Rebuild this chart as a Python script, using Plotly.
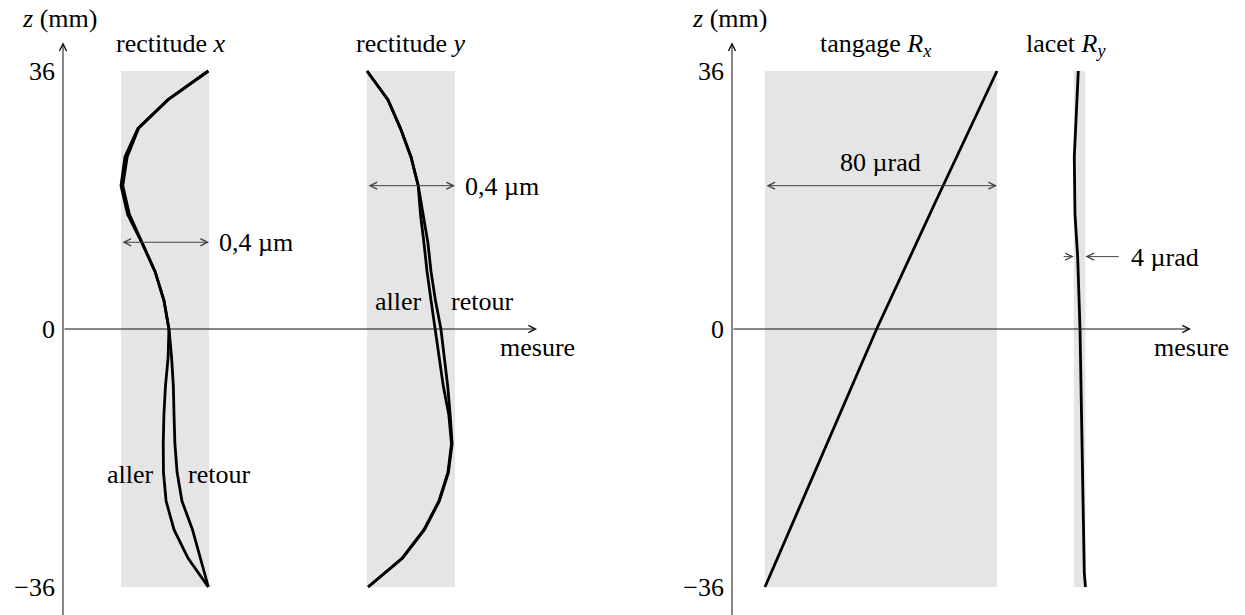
import plotly.graph_objects as go

# ---------------- data ----------------
# z positions (mm) of the straightness measurements
z_rect = [36, 32, 28, 24, 20, 16, 12, 8, 4, 0, -4, -8, -12, -16, -20, -24, -28, -32, -36]
# straightness x (um, relative to the left edge of its 0.4 um band)
rect_x_aller = [0.397, 0.214, 0.077, 0.018, 0.000, 0.030, 0.095, 0.155, 0.195, 0.218,
                0.214, 0.202, 0.195, 0.192, 0.193, 0.205, 0.241, 0.305, 0.397]
rect_x_retour = [0.397, 0.214, 0.080, 0.028, 0.008, 0.038, 0.097, 0.155, 0.195, 0.218,
                 0.230, 0.238, 0.241, 0.245, 0.255, 0.277, 0.325, 0.361, 0.397]
# straightness y (um, relative to the left edge of its 0.4 um band)
rect_y_aller = [0.000, 0.095, 0.152, 0.200, 0.233, 0.243, 0.259, 0.273, 0.291, 0.309,
                0.330, 0.347, 0.372, 0.384, 0.368, 0.327, 0.259, 0.159, 0.005]
rect_y_retour = [0.000, 0.095, 0.152, 0.200, 0.233, 0.255, 0.277, 0.291, 0.311, 0.336,
                 0.352, 0.367, 0.378, 0.387, 0.370, 0.329, 0.261, 0.161, 0.005]
# pitch R_x (urad, relative to left edge of its 80 urad band)
z_tangage = [-36, -18, 0, 18, 36]
tangage = [0.0, 19.2, 38.5, 59.1, 80.0]
# yaw R_y (urad, relative to left edge of its 4 urad band)
z_lacet = [36, 30, 24, 16, 10, 0, -10, -18, -28, -34, -36]
lacet = [1.55, 0.76, 0.17, 0.41, 1.34, 2.14, 2.55, 2.93, 3.28, 3.62, 4.03]

z_ticks = [36, 0, -36]
z_tick_text = ["36", "0", "\u221236"]

# ---------------- geometry / style ----------------
W, H = 1245, 615
Y0_PX = 329.0
PX_PER_MM = 258.0 / 36.0
AXL_PX, PX_PER_UM = 63.0, 220.0
AXR_PX, PX_PER_URAD = 732.0, 2.9

z_range = [(Y0_PX - H) / PX_PER_MM, Y0_PX / PX_PER_MM]
xl_range = [-AXL_PX / PX_PER_UM, (W - AXL_PX) / PX_PER_UM]
xr_range = [-AXR_PX / PX_PER_URAD, (W - AXR_PX) / PX_PER_URAD]

BAND_X0 = (121 - AXL_PX) / PX_PER_UM
BAND_Y0 = (367 - AXL_PX) / PX_PER_UM
BAND_UM = 0.4
BAND_T0 = (765 - AXR_PX) / PX_PER_URAD
BAND_T = 80.0
BAND_L0 = (1073.8 - AXR_PX) / PX_PER_URAD
BAND_L = 4.0
XL_END = (537 - AXL_PX) / PX_PER_UM
XR_END = (1191 - AXR_PX) / PX_PER_URAD

FONT = "Liberation Serif, Times New Roman, DejaVu Serif, serif"
FS = 26
GRAY = "#e5e5e5"
CURVE = dict(color="black", width=2.8)

fig = go.Figure()

def curve(xs, zs, off, xa, ya):
    fig.add_trace(go.Scatter(x=[off + v for v in xs], y=zs, mode="lines", line=CURVE,
                             xaxis=xa, yaxis=ya, hoverinfo="skip", showlegend=False))

curve(rect_x_aller, z_rect, BAND_X0, "x", "y")
curve(rect_x_retour, z_rect, BAND_X0, "x", "y")
curve(rect_y_aller, z_rect, BAND_Y0, "x", "y")
curve(rect_y_retour, z_rect, BAND_Y0, "x", "y")
curve(tangage, z_tangage, BAND_T0, "x2", "y2")
curve(lacet, z_lacet, BAND_L0, "x2", "y2")

shapes = []
def band(x0, w, xref, yref):
    shapes.append(dict(type="rect", xref=xref, yref=yref, x0=x0, x1=x0 + w, y0=-36, y1=36,
                       fillcolor=GRAY, line=dict(width=0), layer="below"))

band(BAND_X0, BAND_UM, "x", "y")
band(BAND_Y0, BAND_UM, "x", "y")
band(BAND_T0, BAND_T, "x2", "y2")
band(BAND_L0, BAND_L, "x2", "y2")

anns = []
def arrow(xref, yref, x, y, ax, ay, color="#111", both=False, width=1.0, size=1.4):
    d = dict(xref=xref, yref=yref, axref=xref, ayref=yref, x=x, y=y, ax=ax, ay=ay,
             text="", showarrow=True, arrowhead=5, arrowsize=size, arrowwidth=width,
             arrowcolor=color, standoff=0)
    if both:
        d.update(arrowside="end+start", startarrowhead=5, startarrowsize=size, startstandoff=0)
    anns.append(d)

# axes
arrow("x", "y", 0, 40, 0, -41)
arrow("x", "y", XL_END, 0, 0, 0)
arrow("x2", "y2", 0, 40, 0, -41)
arrow("x2", "y2", XR_END, 0, 0, 0)
# measurement arrows
arrow("x", "y", BAND_X0 + BAND_UM, 12.1, BAND_X0, 12.1, color="#444", both=True)
arrow("x", "y", BAND_Y0 + BAND_UM, 20, BAND_Y0, 20, color="#444", both=True)
arrow("x2", "y2", BAND_T0 + BAND_T, 20, BAND_T0, 20, color="#444", both=True)
arrow("x2", "y2", BAND_L0, 10.1, BAND_L0 - 4.0, 10.1, color="#444")
arrow("x2", "y2", BAND_L0 + BAND_L, 10.1, BAND_L0 + BAND_L + 12.0, 10.1, color="#444")

def text(t, px, py, xanchor="center"):
    anns.append(dict(xref="paper", yref="paper", x=px / W, y=1 - py / H, text=t,
                     showarrow=False, xanchor=xanchor, yanchor="middle",
                     font=dict(family=FONT, size=FS, color="black")))

text("<i>z</i> (mm)", 59, 18)
text("<i>z</i> (mm)", 729, 18)
text("rectitude <i>x</i>", 170, 43)
text("rectitude <i>y</i>", 411, 43)
text("tangage <i>R</i><sub><i>x</i></sub>", 875, 45)
text("lacet <i>R</i><sub><i>y</i></sub>", 1066, 45)
text("0,4 \u00b5m", 217, 242, "left")
text("0,4 \u00b5m", 463, 186, "left")
text("80 \u00b5rad", 880, 163)
text("4 \u00b5rad", 1129, 257, "left")
text("aller", 130, 474)
text("retour", 219, 474)
text("aller", 398, 302)
text("retour", 482, 302)
text("mesure", 537, 347)
text("mesure", 1191, 347)

yax = dict(domain=[0, 1], range=z_range, showgrid=False, zeroline=False, showline=False,
           tickmode="array", tickvals=z_ticks, ticktext=z_tick_text, ticks="",
           ticklabelstandoff=8, tickfont=dict(family=FONT, size=FS, color="black"),
           fixedrange=True, anchor="free")

fig.update_layout(
    width=W, height=H, margin=dict(l=0, r=0, t=0, b=0),
    paper_bgcolor="white", plot_bgcolor="white",
    font=dict(family=FONT, size=FS, color="black"),
    xaxis=dict(domain=[0, 1], range=xl_range, visible=False, fixedrange=True, anchor="y"),
    xaxis2=dict(domain=[0, 1], range=xr_range, visible=False, fixedrange=True,
                overlaying="x", anchor="y2"),
    yaxis=dict(yax, position=AXL_PX / W),
    yaxis2=dict(yax, position=AXR_PX / W, overlaying="y"),
    shapes=shapes, annotations=anns, showlegend=False,
)

fig.write_html("out.html", config={"displayModeBar": False},
               post_script="document.body.style.margin='0';")
